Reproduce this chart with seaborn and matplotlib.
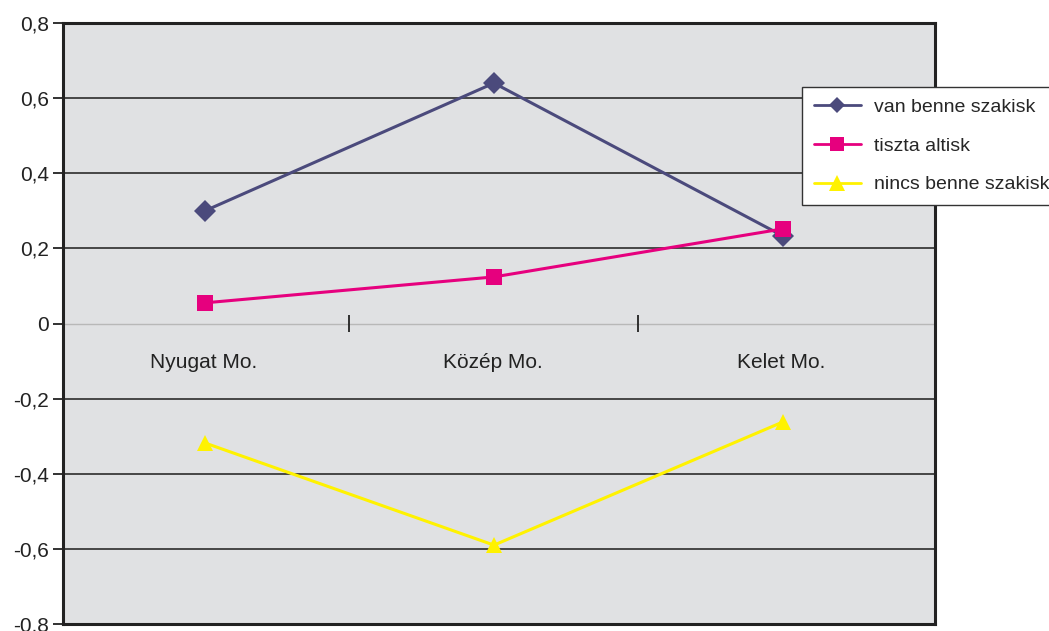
import matplotlib
matplotlib.use("Agg")
import matplotlib.pyplot as plt
import seaborn as sns
import pandas as pd

regions = ["Nyugat Mo.", "Közép Mo.", "Kelet Mo."]
series_names = ["van benne szakisk", "tiszta altisk", "nincs benne szakisk"]
van_benne = [0.30, 0.64, 0.233]
tiszta = [0.055, 0.124, 0.252]
nincs_benne = [-0.318, -0.59, -0.262]
y_ticks = [0.8, 0.6, 0.4, 0.2, 0, -0.2, -0.4, -0.6, -0.8]

colors = ["#4b4a7c", "#e6007e", "#fff200"]
markers = ["D", "s", "^"]

rows = []
for name, vals in zip(series_names, [van_benne, tiszta, nincs_benne]):
    for i, v in enumerate(vals):
        rows.append({"pos": i, "region": regions[i], "series": name, "value": v})
df = pd.DataFrame(rows)

sns.set_theme(style="white")
plt.rcParams["font.family"] = ["Liberation Sans", "DejaVu Sans"]

fig = plt.figure(figsize=(10.49, 6.31), dpi=100)
ax = fig.add_axes([63 / 1049, 1 - 624 / 631, (935 - 63) / 1049, (624 - 23) / 631])
ax.set_facecolor("#e0e1e3")

# gridlines
for t in y_ticks:
    if t == 0:
        ax.axhline(t, color="#b8b8b8", lw=1.0, zorder=1)
    elif abs(t) < 0.8:
        ax.axhline(t, color="#3a3a3a", lw=1.3, zorder=1)

sns.lineplot(
    data=df, x="pos", y="value", hue="series", style="series",
    hue_order=series_names, style_order=series_names,
    palette=colors, markers=dict(zip(series_names, markers)), dashes=False,
    lw=2.2, markersize=11, markeredgewidth=0, ax=ax, zorder=3,
)
for line, ms in zip(ax.get_lines()[-3:], [8.5, 13, 14.5]):
    line.set_markersize(ms)

ax.set_xlim(-0.491, 2.526)
ax.set_ylim(-0.8, 0.8)
ax.set_xlabel("")
ax.set_ylabel("")
ax.set_xticks([])
ax.set_yticks(y_ticks)
ax.set_yticklabels([f"{t:g}".replace(".", ",") for t in y_ticks], fontsize=15, color="#222222")
ax.tick_params(axis="y", direction="out", length=7.5, width=1.3, color="#222222", left=True, pad=2.5)

for s in ax.spines.values():
    s.set_color("#222222")
    s.set_linewidth(2.2)

# category separators on the zero line
ax.vlines([0.5, 1.5], -0.022, 0.022, colors="#222222", lw=1.3, zorder=2)

# category labels inside the plot
for i, r in enumerate(regions):
    ax.text(i - 0.005, -0.103, r, ha="center", va="center", fontsize=15, color="#222222")

ax.legend_.remove()
handles = ax.get_lines()[-3:]
leg = fig.legend(
    handles, series_names, loc="upper left",
    bbox_to_anchor=(802 / 1049, 1 - 87 / 631), borderaxespad=0, fontsize=14,
    frameon=True, fancybox=False, edgecolor="#333333", framealpha=1,
    handlelength=2.45, borderpad=0.6, labelspacing=1.08, handletextpad=0.65,
)
leg.get_frame().set_linewidth(1.0)
for h, ms in zip(leg.legend_handles, [8, 10, 11]):
    h.set_linewidth(2.0)
    h.set_markersize(ms)

fig.savefig("out.png", dpi=100)
